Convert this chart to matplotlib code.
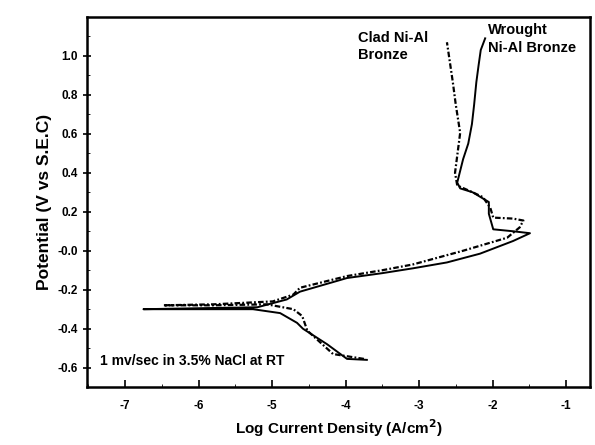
import numpy as np
import matplotlib.pyplot as plt

plt.rcParams['font.family'] = ['Liberation Sans', 'DejaVu Sans']
plt.rcParams['font.weight'] = 'bold'
plt.rcParams['axes.unicode_minus'] = False

# wrought Ni-Al bronze (solid), log i vs potential
wr_logi = [-3.71, -3.98, -4.25, -4.58, -4.66, -4.89, -5.26, -6.00, -6.75,
           -6.00, -5.20, -4.80, -4.62, -4.30, -3.98, -3.50, -3.08, -2.62,
           -2.17, -1.72, -1.49, -1.72, -1.99, -2.05, -2.05, -2.27, -2.44,
           -2.48, -2.40, -2.33, -2.28, -2.25, -2.22, -2.19, -2.16, -2.10]
wr_pot = [-0.56, -0.555, -0.48, -0.40, -0.37, -0.32, -0.30, -0.30, -0.30,
          -0.295, -0.29, -0.25, -0.21, -0.175, -0.14, -0.115, -0.09, -0.06,
          -0.015, 0.05, 0.09, 0.10, 0.11, 0.19, 0.25, 0.30, 0.32,
          0.35, 0.47, 0.55, 0.65, 0.75, 0.865, 0.95, 1.03, 1.09]

# clad Ni-Al bronze (dash-dot)
cl_logi = [-3.75, -4.17, -4.52, -4.59, -4.71, -5.07, -5.80, -6.48,
           -5.80, -4.99, -4.71, -4.62, -4.30, -3.98, -3.50, -3.08, -2.40,
           -1.80, -1.63, -1.58, -1.72, -1.99, -2.03, -2.13, -2.27, -2.48,
           -2.51, -2.44, -2.50, -2.54, -2.62]
cl_pot = [-0.555, -0.53, -0.41, -0.335, -0.30, -0.275, -0.28, -0.28,
          -0.275, -0.26, -0.225, -0.19, -0.16, -0.13, -0.10, -0.07, 0.0,
          0.067, 0.12, 0.155, 0.165, 0.17, 0.22, 0.275, 0.30, 0.335,
          0.40, 0.605, 0.75, 0.865, 1.07]

fig = plt.figure(figsize=(5.95, 4.45), dpi=100)
ax = fig.add_axes([0.146, 0.13, 0.846, 0.832])

ax.plot(wr_logi, wr_pot, color='black', lw=1.4)
ax.plot(cl_logi, cl_pot, color='black', lw=1.6, linestyle=(0, (2.5, 1, 0.8, 1)))

ax.set_xlim(-7.52, -0.67)
ax.set_ylim(-0.70, 1.2)
ax.set_xticks([-7, -6, -5, -4, -3, -2, -1])
ax.set_xticks(np.arange(-7.5, -0.6, 0.5), minor=True)
ax.set_yticks([-0.6, -0.4, -0.2, 0.0, 0.2, 0.4, 0.6, 0.8, 1.0])
ax.set_yticklabels(['-0.6', '-0.4', '-0.2', '-0.0', '0.2', '0.4', '0.6', '0.8', '1.0'])
ax.set_yticks(np.arange(-0.7, 1.2, 0.1), minor=True)
ax.tick_params(axis='x', direction='in', length=5, width=1.2, labelsize=8.5, pad=9)
ax.tick_params(axis='x', which='minor', direction='in', length=2.5)
ax.tick_params(axis='y', direction='inout', length=6, width=1.2, labelsize=8.5)
ax.tick_params(axis='y', which='minor', direction='in', length=2.5)
for s in ax.spines.values():
    s.set_linewidth(1.8)

ax.set_xlabel('Log Current Density (A/cm$^\\mathbf{2}$)', fontsize=11, fontweight='bold')
ax.set_ylabel('Potential (V vs S.E.C)', fontsize=12.5, fontweight='bold')

ax.text(-3.83, 1.13, 'Clad Ni-Al\nBronze', fontsize=10.5, fontweight='bold', va='top', linespacing=1.35)
ax.text(-2.06, 1.17, 'Wrought\nNi-Al Bronze', fontsize=10.5, fontweight='bold', va='top', linespacing=1.35)
ax.text(-7.34, -0.565, '1 mv/sec in 3.5% NaCl at RT', fontsize=10, fontweight='bold', va='center')

fig.savefig('out.png', dpi=100)
